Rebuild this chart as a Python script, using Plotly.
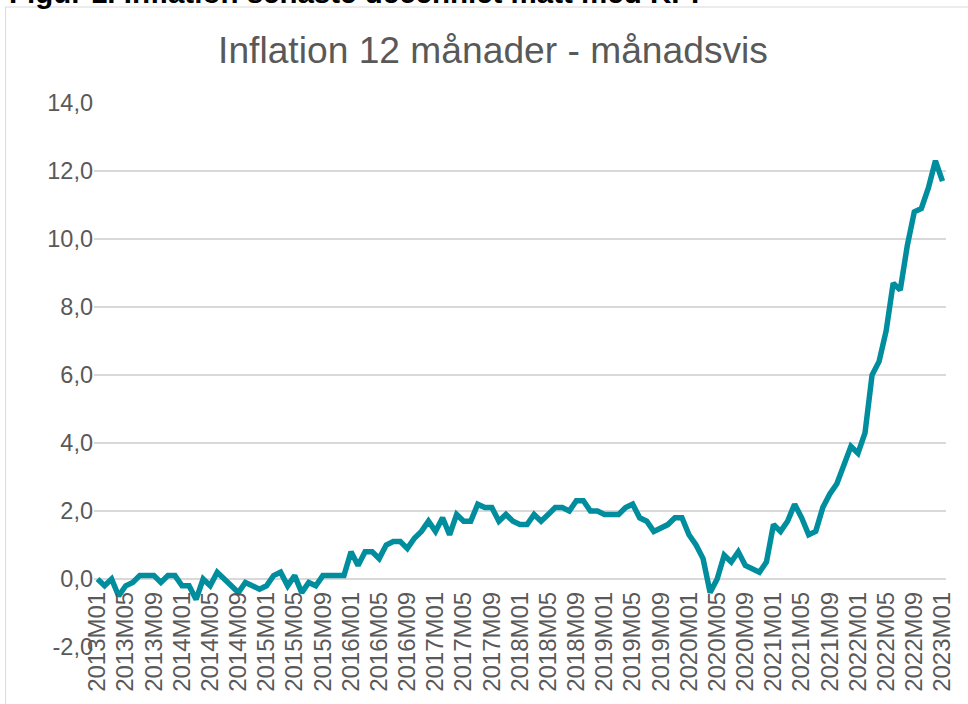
import plotly.graph_objects as go

# Monthly categories 2013M01 .. 2023M01
years = list(range(2013, 2024))
months = [f"{y}M{m:02d}" for y in years for m in range(1, 13)][:121]

# 12-month inflation (KPI), percent
inflation = [
    # 2013
    0.0, -0.2, 0.0, -0.5, -0.2, -0.1, 0.1, 0.1, 0.1, -0.1, 0.1, 0.1,
    # 2014
    -0.2, -0.2, -0.6, 0.0, -0.2, 0.2, 0.0, -0.2, -0.4, -0.1, -0.2, -0.3,
    # 2015
    -0.2, 0.1, 0.2, -0.2, 0.1, -0.4, -0.1, -0.2, 0.1, 0.1, 0.1, 0.1,
    # 2016
    0.8, 0.4, 0.8, 0.8, 0.6, 1.0, 1.1, 1.1, 0.9, 1.2, 1.4, 1.7,
    # 2017
    1.4, 1.8, 1.3, 1.9, 1.7, 1.7, 2.2, 2.1, 2.1, 1.7, 1.9, 1.7,
    # 2018
    1.6, 1.6, 1.9, 1.7, 1.9, 2.1, 2.1, 2.0, 2.3, 2.3, 2.0, 2.0,
    # 2019
    1.9, 1.9, 1.9, 2.1, 2.2, 1.8, 1.7, 1.4, 1.5, 1.6, 1.8, 1.8,
    # 2020
    1.3, 1.0, 0.6, -0.4, 0.0, 0.7, 0.5, 0.8, 0.4, 0.3, 0.2, 0.5,
    # 2021
    1.6, 1.4, 1.7, 2.2, 1.8, 1.3, 1.4, 2.1, 2.5, 2.8, 3.3, 3.9,
    # 2022
    3.7, 4.3, 6.0, 6.4, 7.3, 8.7, 8.5, 9.8, 10.8, 10.9, 11.5, 12.3,
    # 2023
    11.7,
]

y_tick_values = [-2, 0, 2, 4, 6, 8, 10, 12, 14]
y_tick_labels = ["-2,0", "0,0", "2,0", "4,0", "6,0", "8,0", "10,0", "12,0", "14,0"]

x_idx = list(range(len(months)))
x_tick_values = x_idx[::4]
x_tick_labels = months[::4]

W, H = 968, 704
L, R, T, B = 93.5, 21.5, 103, 57
pw, ph = W - L - R, H - T - B

FONT = "Liberation Sans, Arial, sans-serif"
GREY = "#595959"

fig = go.Figure()
fig.add_trace(go.Scatter(
    x=x_idx, y=inflation, mode="lines",
    line=dict(color="#008E9E", width=5.5),
    hoverinfo="skip", showlegend=False,
))

def px_x(p):
    return (p - L) / pw

def px_y(p):
    return (H - B - p) / ph

fig.update_layout(
    width=W, height=H,
    margin=dict(l=L, r=R, t=T, b=B, autoexpand=False),
    paper_bgcolor="white", plot_bgcolor="white",
    font=dict(family=FONT, color=GREY, size=23.5),
    title=dict(
        text="Inflation 12 månader - månadsvis",
        x=493 / W, xref="container", xanchor="center",
        y=1 - 50 / H, yref="container", yanchor="middle",
        font=dict(family=FONT, size=37.2, color=GREY),
    ),
    xaxis=dict(
        range=[-0.5, len(months) - 0.5],
        tickvals=x_tick_values, ticktext=x_tick_labels,
        tickangle=-90, showgrid=False, zeroline=False, showline=False,
        ticks="", anchor="free", position=2 / 16, automargin=False,
        ticklabelstandoff=7,
        tickfont=dict(size=24, color=GREY),
    ),
    yaxis=dict(
        range=[-2, 14], tickvals=y_tick_values, ticktext=y_tick_labels,
        showgrid=True, gridcolor="#D9D9D9", gridwidth=1.5,
        zeroline=False, showline=False, ticks="", automargin=False,
        tickfont=dict(size=23.5, color=GREY),
    ),
    shapes=[dict(
        type="rect", xref="paper", yref="paper",
        x0=px_x(5), x1=px_x(985), y0=px_y(720), y1=px_y(7),
        line=dict(color="#D9D9D9", width=1), fillcolor="rgba(0,0,0,0)",
        layer="below",
    )],
    annotations=[dict(
        text="<b>Figur 1. Inflation senaste decenniet mätt med KPI</b>",
        xref="paper", yref="paper", x=px_x(6), y=px_y(11),
        xanchor="left", yanchor="bottom", showarrow=False,
        font=dict(family=FONT, size=29.5, color="black"),
    )],
)

fig.write_html(
    "out.html",
    config={"displayModeBar": False},
    post_script="document.body.style.margin='0';document.body.style.overflow='hidden';",
)
